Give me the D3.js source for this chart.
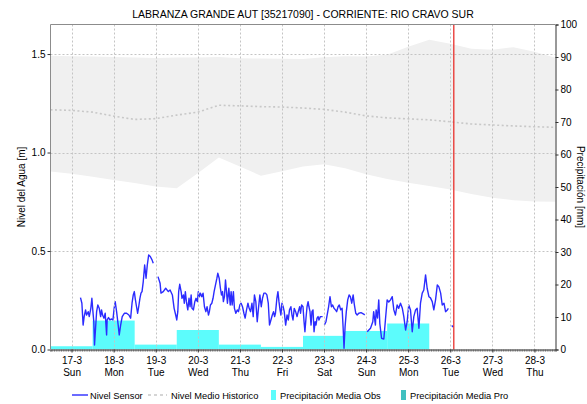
<!DOCTYPE html>
<html>
<head>
<meta charset="utf-8">
<script src="https://cdn.jsdelivr.net/npm/d3@7"></script>
<style>
  body { margin: 0; background: #fff; }
  svg text { font-family: "Liberation Sans", Arial, sans-serif; fill: #000; }
</style>
</head>
<body>
<svg id="chart" width="587" height="404"></svg>
<script>
// ---- data ----
const chartTitle = "LABRANZA GRANDE AUT [35217090] - CORRIENTE: RIO CRAVO SUR";
const leftTitle = "Nivel del Agua [m]";
const rightTitle = "Precipitación [mm]";

const dayTicks = ["2019-03-17","2019-03-18","2019-03-19","2019-03-20","2019-03-21","2019-03-22",
                  "2019-03-23","2019-03-24","2019-03-25","2019-03-26","2019-03-27","2019-03-28"];
const weekDays = ["Sun","Mon","Tue","Wed","Thu","Fri","Sat"];
const levelTicks = [0, 0.5, 1.0, 1.5];
const rainTicks = [0, 10, 20, 30, 40, 50, 60, 70, 80, 90, 100];

// daily mean precipitation observed (mm), centred on each day
const rainDays = ["2019-03-17","2019-03-18","2019-03-19","2019-03-20","2019-03-21",
                  "2019-03-22","2019-03-23","2019-03-24","2019-03-25"];
const rainObs = [1.0, 8.9, 1.5, 6.0, 1.5, 0.8, 4.2, 5.7, 8.0];

// historic level envelope, hours from 17-3 00:00
const histHours = [-12, 0, 12, 24, 36, 48, 60, 72, 84, 96, 108, 120, 132, 144, 156, 168, 180, 192, 204, 216, 228, 240, 252, 264, 276];
const histHigh = [1.491, 1.489, 1.487, 1.485, 1.483, 1.480, 1.482, 1.483, 1.485, 1.479, 1.477, 1.476, 1.475,
                  1.484, 1.489, 1.488, 1.497, 1.537, 1.573, 1.552, 1.527, 1.522, 1.535, 1.512, 1.481];
const histMean = [1.217, 1.214, 1.205, 1.185, 1.168, 1.172, 1.190, 1.205, 1.240, 1.237, 1.233, 1.231, 1.226,
                  1.219, 1.205, 1.186, 1.176, 1.171, 1.166, 1.156, 1.145, 1.140, 1.135, 1.131, 1.128];
const histLow  = [0.904, 0.892, 0.877, 0.861, 0.845, 0.827, 0.819, 0.895, 0.975, 0.929, 0.882, 0.905, 0.929,
                  0.940, 0.920, 0.890, 0.865, 0.846, 0.830, 0.812, 0.790, 0.770, 0.758, 0.752, 0.750];

// sensor level (m), hours from 17-3 00:00; null marks a gap in the record
const sensorHours = [
  5.1,5.9,6.6,7.2,8.0,8.6,9.5,10.1,11.0,11.6,12.2,12.7,13.1,13.7,14.3,15.0,15.8,16.6,17.1,17.7,18.5,19.2,
  20.0,20.3,21.1,21.9,22.6,23.6,24.3,24.9,25.7,26.6,27.2,28.0,28.9,30.1,31.4,32.7,33.7,34.5,35.2,35.8,36.3,
  36.9,37.7,38.3,39.0,39.6,40.2,40.9,41.7,42.5,43.2,44.0,44.9,45.9,46.6,48.0,
  49.3,50.5,51.0,52.3,53.7,55.2,56.2,57.5,58.5,59.4,60.0,60.6,61.1,61.7,62.5,63.0,63.8,64.3,64.9,65.5,66.3,
  67.0,67.6,68.2,68.7,69.5,70.3,71.0,71.8,72.3,72.9,73.5,74.3,75.0,75.8,76.6,77.3,78.1,78.6,79.2,80.0,80.7,
  81.3,82.1,82.9,83.4,84.2,84.9,85.5,86.1,86.6,87.2,87.8,88.3,88.9,89.7,90.5,91.0,91.6,92.3,92.9,93.7,94.5,
  95.2,96.0,96.7,97.5,98.3,99.0,99.8,100.6,101.3,102.1,102.9,103.6,104.3,105.1,105.9,106.6,107.4,108.2,108.9,
  109.7,110.6,111.4,112.2,112.9,113.7,114.5,115.2,115.8,116.3,117.1,117.7,118.3,118.9,119.4,120.0,120.7,121.3,
  122.1,122.9,123.6,124.3,125.1,125.7,126.3,127.0,127.8,128.6,129.3,130.1,130.6,131.2,132.0,132.6,133.1,133.7,
  134.3,134.9,135.4,136.0,136.6,137.1,137.7,138.3,138.9,139.4,140.0,140.6,141.1,141.9,143.2,143.7,
  144.2,145.1,146.6,147.4,148.2,148.9,149.7,150.5,151.2,152.0,152.7,153.5,154.3,154.9,155.4,156.0,156.7,157.5,
  158.3,159.0,159.8,160.6,161.3,162.1,162.9,163.8,165.1,166.6,167.2,167.9,
  168.6,170.5,171.8,172.3,173.3,173.7,174.5,175.2,175.8,176.8,178.1,179.0,180.0,180.9,181.9,182.9,183.8,184.7,
  185.7,186.6,187.6,188.6,189.5,190.5,191.4,192.3,193.3,194.3,195.2,196.2,197.1,198.1,199.0,200.0,200.9,201.9,
  202.8,203.8,204.7,205.7,206.6,207.6,208.6,209.5,210.5,211.4,212.4,213.3,214.3,214.9,215.8,
  216.8,217.7
];
const sensorLevel = [
  .263,.235,.124,.167,.201,.175,.192,.167,.209,.260,.192,.141,.023,.108,.192,.226,.209,.167,.201,.175,.159,.184,
  .074,.150,.162,.150,.155,.150,.209,.243,.192,.124,.074,.124,.167,.184,.184,.175,.159,.235,.277,.294,.260,
  .226,.184,.217,.260,.286,.294,.345,.429,.362,.429,.480,.472,.455,.438,null,
  .370,.336,.286,.294,.311,.294,.302,.277,.209,.175,.150,.192,.294,.331,.294,.260,.277,.235,.294,.243,.201,
  .260,.217,.277,.209,.201,.243,.260,.243,.294,.268,.286,.268,.286,.217,.192,.217,.175,.192,.226,.235,.260,
  .294,.328,.362,.387,.362,.311,.277,.294,.243,.268,.353,.302,.235,.311,.226,.294,.226,.294,.209,.184,.201,
  .192,.226,.235,.217,.184,.159,.201,.235,.209,.192,.235,.167,.277,.243,.141,.209,.277,.217,.260,
  .286,.286,.277,.235,.124,.150,.175,.192,.167,.184,.260,.294,.243,.201,.175,.235,.217,.192,
  .124,.175,.150,.201,.217,.175,.150,.209,.192,.167,.192,.217,.184,.226,.217,.141,.090,.159,
  .217,.243,.217,.192,.124,.192,.201,.090,.141,.124,.159,.167,.150,.167,.167,null,
  .124,.141,.217,.268,.217,.226,.209,.201,.192,.217,.226,.201,.209,.108,.006,.116,.192,.252,
  .277,.268,.235,.277,.226,.184,.175,.184,.187,.180,.175,null,
  .090,.108,.141,.192,.124,.201,.160,.252,.133,.057,.053,.150,.252,.241,.252,.268,.201,.175,
  .226,.209,.235,.211,.167,.099,.141,.226,.201,.090,.167,.201,.209,.108,.235,.286,.302,.379,
  .311,.268,.262,.243,.201,.252,.328,.318,.286,.226,.235,.192,.201,.209,null,
  .122,.114
];

const nowHour = 2; // current time marker, 26-3 02:00

// ---- helpers ----
const parseDay = d3.timeParse("%Y-%m-%d");
const origin = new Date(2019, 2, 17, 0, 0);
const atHour = h => new Date(origin.getTime() + h * 3600e3);

// ---- layout ----
const svg = d3.select("#chart");
const L = 50.5, R = 555.5, T = 24.5, B = 349.5;

const x = d3.scaleTime()
  .domain([new Date(2019, 2, 16, 12), new Date(2019, 2, 28, 12)])
  .range([L, R]);
const y = d3.scaleLinear().domain([0, 1.65]).range([B, T]);
const yR = d3.scaleLinear().domain([0, 100]).range([B, T]);

svg.append("defs").append("clipPath").attr("id", "plot-clip")
  .append("rect").attr("x", L).attr("y", T).attr("width", R - L).attr("height", B - T);

const plot = svg.append("g").attr("clip-path", "url(#plot-clip)");

// historic envelope
const hist = histHours.map((h, i) => ({ t: atHour(h), hi: histHigh[i], mid: histMean[i], lo: histLow[i] }));
plot.append("path").datum(hist)
  .attr("fill", "#f0f0f0")
  .attr("d", d3.area().x(d => x(d.t)).y0(d => y(d.lo)).y1(d => y(d.hi)));

// grid
const grid = svg.append("g").attr("stroke", "#c4c4c4").attr("stroke-dasharray", "2,2").attr("stroke-width", 1);
dayTicks.forEach(d => {
  const px = Math.round(x(parseDay(d))) + 0.5;
  grid.append("line").attr("x1", px).attr("x2", px).attr("y1", T).attr("y2", B);
});
levelTicks.filter(v => v > 0).forEach(v => {
  const py = Math.round(y(v)) + 0.5;
  grid.append("line").attr("x1", L).attr("x2", R).attr("y1", py).attr("y2", py);
});

// historic mean
plot.append("path").datum(hist)
  .attr("fill", "none").attr("stroke", "#c8c8c8").attr("stroke-width", 1.6)
  .attr("stroke-dasharray", "2,2.5")
  .attr("d", d3.line().x(d => x(d.t)).y(d => y(d.mid)));

// precipitation bars
plot.selectAll("rect.rain").data(rainDays.map((d, i) => ({ day: parseDay(d), v: rainObs[i] })))
  .join("rect").attr("class", "rain")
  .attr("x", d => x(d3.timeHour.offset(d.day, -12)))
  .attr("width", d => x(d3.timeHour.offset(d.day, 12)) - x(d3.timeHour.offset(d.day, -12)))
  .attr("y", d => yR(d.v))
  .attr("height", d => yR(0) - yR(d.v))
  .attr("fill", "#5cfcfc");

// sensor level
const sensor = sensorHours.map((h, i) => ({ t: atHour(h), v: sensorLevel[i] }));
plot.append("path").datum(sensor)
  .attr("fill", "none").attr("stroke", "#2b2bff").attr("stroke-width", 1.4)
  .attr("stroke-linejoin", "round")
  .attr("d", d3.line().defined(d => d.v != null).x(d => x(d.t)).y(d => y(d.v)));

// current time marker
const nowX = x(d3.timeHour.offset(parseDay("2019-03-26"), nowHour));
svg.append("line").attr("x1", nowX).attr("x2", nowX).attr("y1", T).attr("y2", B)
  .attr("stroke", "#e8302c").attr("stroke-width", 1.3);

// frame
svg.append("line").attr("x1", L).attr("x2", R).attr("y1", T).attr("y2", T).attr("stroke", "#8c8c8c");
svg.append("line").attr("x1", L).attr("x2", L).attr("y1", T).attr("y2", B).attr("stroke", "#8c8c8c");

// left axis
const axL = svg.append("g").attr("transform", `translate(${L},0)`)
  .call(d3.axisLeft(y).tickValues(levelTicks).tickFormat(d3.format(".1f")).tickSize(3).tickPadding(2));
axL.select(".domain").remove();
axL.selectAll("line").attr("stroke", "#333");
axL.selectAll("text").attr("font-size", 10).style("font-family", "Liberation Sans, Arial, sans-serif");

// right axis
const axR = svg.append("g").attr("transform", `translate(${R},0)`)
  .call(d3.axisRight(yR).tickValues(rainTicks).tickSize(3).tickPadding(2));
axR.select(".domain").attr("stroke", "#333");
axR.selectAll("line").attr("stroke", "#333");
axR.selectAll("text").attr("font-size", 10).style("font-family", "Liberation Sans, Arial, sans-serif");

// bottom axis: hourly minor ticks plus daily labels
const axMinor = svg.append("g").attr("transform", `translate(0,${B})`)
  .call(d3.axisBottom(x).ticks(d3.timeHour.every(1)).tickSize(2).tickFormat(""));
axMinor.select(".domain").attr("stroke", "#333");
axMinor.selectAll("line").attr("stroke", "#666");

const axB = svg.append("g").attr("transform", `translate(0,${B})`)
  .call(d3.axisBottom(x).tickValues(dayTicks.map(parseDay)).tickSize(3).tickFormat(""));
axB.select(".domain").remove();
axB.selectAll("line").attr("stroke", "#333");
const lab = axB.selectAll(".tick").append("text").attr("text-anchor", "middle")
  .attr("font-size", 10).style("font-family", "Liberation Sans, Arial, sans-serif").attr("fill", "#000");
lab.append("tspan").attr("x", 0).attr("y", 14).text(d => d3.timeFormat("%-d-%-m")(d));
lab.append("tspan").attr("x", 0).attr("y", 26).text(d => weekDays[d.getDay()]);

// titles
svg.append("text").attr("x", (L + R) / 2).attr("y", 18).attr("text-anchor", "middle")
  .attr("font-size", 10.5).attr("fill", "#111").text(chartTitle);
svg.append("text").attr("transform", `translate(25,${(T + B) / 2}) rotate(-90)`)
  .attr("text-anchor", "middle").attr("font-size", 10).attr("fill", "#333").text(leftTitle);
svg.append("text").attr("transform", `translate(576.5,${(T + B) / 2}) rotate(90)`)
  .attr("text-anchor", "middle").attr("font-size", 10).attr("fill", "#333").text(rightTitle);

// legend
const lg = svg.append("g").attr("font-size", 9.3);
const ly = 395;
lg.append("line").attr("x1", 72).attr("x2", 88).attr("y1", ly).attr("y2", ly).attr("stroke", "#2b2bff").attr("stroke-width", 1.4);
lg.append("text").attr("x", 90).attr("y", ly + 3.5).text("Nivel Sensor");
lg.append("line").attr("x1", 148).attr("x2", 167).attr("y1", ly).attr("y2", ly).attr("stroke", "#c8c8c8")
  .attr("stroke-width", 1.6).attr("stroke-dasharray", "3,3");
lg.append("text").attr("x", 171).attr("y", ly + 3.5).text("Nivel Medio Historico");
lg.append("rect").attr("x", 271).attr("y", ly - 5).attr("width", 5).attr("height", 10).attr("fill", "#5cfcfc");
lg.append("text").attr("x", 280).attr("y", ly + 3.5).text("Precipitación Media Obs");
lg.append("rect").attr("x", 401).attr("y", ly - 5).attr("width", 5).attr("height", 10).attr("fill", "#40c0c0");
lg.append("text").attr("x", 410).attr("y", ly + 3.5).text("Precipitación Media Pro");
</script>
</body>
</html>
